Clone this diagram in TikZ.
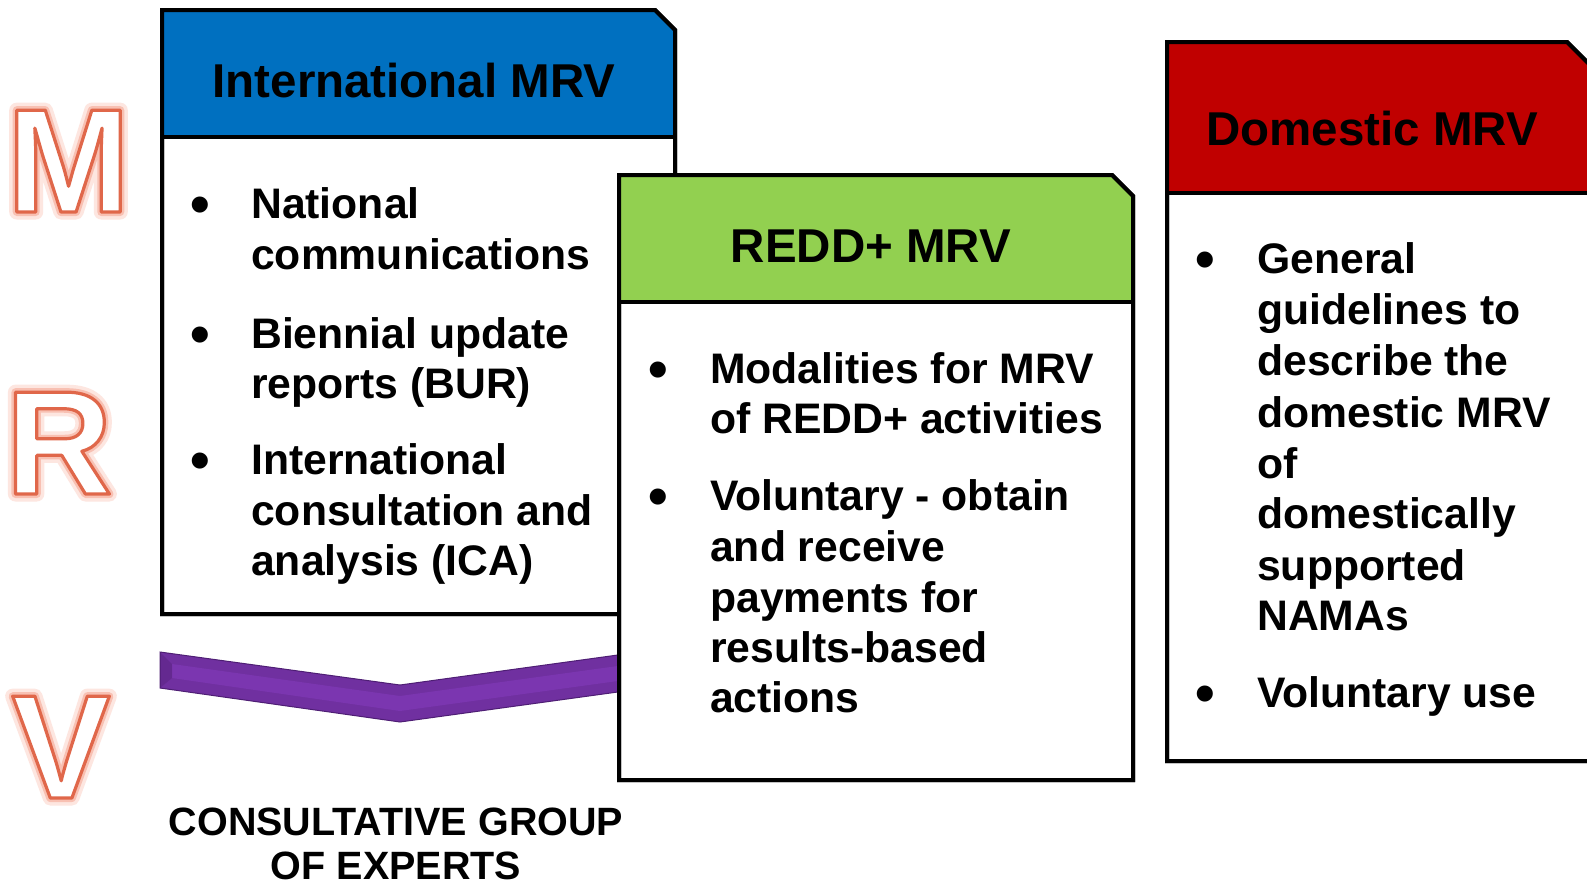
\documentclass[tikz,border=0pt]{standalone}
\usepackage{fontspec}
\setmainfont{Liberation Sans}
\definecolor{intblue}{HTML}{0070C0}
\definecolor{reddgreen}{HTML}{92D050}
\definecolor{domred}{HTML}{C00000}
\definecolor{cgepurple}{HTML}{7030A0}
\definecolor{cgelight}{HTML}{7B36B0}
\definecolor{cgedark}{HTML}{4E1E74}
\definecolor{mrvline}{HTML}{E0674A}
\definecolor{glowA}{HTML}{FDE6E0}
\definecolor{glowB}{HTML}{F8C0B2}
\newcommand{\strokedtext}[2]{\special{pdf:literal direct 1 j #1 w 1 Tr}#2\special{pdf:literal direct 0 Tr}}
\newcommand{\glowletter}[1]{\rlap{\color{glowA}\strokedtext{15}{#1}}\rlap{\color{glowB}\strokedtext{8}{#1}}\rlap{\color{white}#1}{\color{mrvline}\strokedtext{3.2}{#1}}}
\begin{document}
\begin{tikzpicture}[x=1pt,y=-1pt,
  boxline/.style={line width=4pt, line join=miter},
  body/.style={font=\fontsize{42.7}{51}\selectfont\bfseries, anchor=base west, inner sep=0pt},
  bul/.style={font=\fontsize{56}{60}\selectfont\bfseries, anchor=base, inner sep=0pt},
  head/.style={font=\fontsize{47.5}{55}\selectfont\bfseries, anchor=base, inner sep=0pt},
  cge/.style={font=\fontsize{39.5}{45}\selectfont\bfseries, anchor=base, inner sep=0pt},
  mrv/.style={font=\fontsize{148}{150}\selectfont\bfseries, anchor=base, inner sep=0pt}]
\useasboundingbox (0,0) rectangle (1587,889);
\clip (0,0) rectangle (1587,889);
\fill[white] (0,0) rectangle (1587,889);

% International MRV box
\filldraw[fill=white, boxline] (162,10) -- (655,10) -- (675,30) -- (675,614) -- (162,614) -- cycle;
\fill[intblue] (162,10) -- (655,10) -- (675,30) -- (675,137) -- (162,137) -- cycle;
\draw[boxline] (162,10) -- (655,10) -- (675,30) -- (675,614) -- (162,614) -- cycle;
\draw[boxline] (162,137) -- (675,137);
\node[head] (hint) at (414,97) {International MRV};

% purple chevron
\fill[cgepurple, draw=cgedark, line width=1pt] (160,652) -- (400,685) -- (625,654) -- (625,691) -- (400,722) -- (160,688) -- cycle;
\fill[cgelight] (172,664) -- (400,696) -- (625,665) -- (625,680) -- (400,711) -- (172,678) -- cycle;
\fill[cgedark, opacity=0.35] (160,652) -- (172,664) -- (172,678) -- (160,688) -- cycle;

% REDD+ MRV box
\filldraw[fill=white, boxline] (619,175) -- (1112,175) -- (1133,196) -- (1133,780) -- (619,780) -- cycle;
\fill[reddgreen] (619,175) -- (1112,175) -- (1133,196) -- (1133,302) -- (619,302) -- cycle;
\draw[boxline] (619,175) -- (1112,175) -- (1133,196) -- (1133,780) -- (619,780) -- cycle;
\draw[boxline] (619,302) -- (1133,302);
\node[head] (hredd) at (871,262) {REDD+ MRV};

% Domestic MRV box
\filldraw[fill=white, boxline] (1167,42) -- (1567,42) -- (1600,75) -- (1600,761) -- (1167,761) -- cycle;
\fill[domred] (1167,42) -- (1567,42) -- (1600,75) -- (1600,193) -- (1167,193) -- cycle;
\draw[boxline] (1167,42) -- (1567,42) -- (1600,75) -- (1600,761) -- (1167,761) -- cycle;
\draw[boxline] (1167,193) -- (1600,193);
\node[head] (hdom) at (1372,145) {Domestic MRV};

% International items
\node[bul] (ib1) at (200,223) {•};
\node[body] (i1a) at (251,218) {National};
\node[body] (i1b) at (251,269) {communications};
\node[bul] (ib2) at (200,353) {•};
\node[body] (i2a) at (251,348) {Biennial update};
\node[body] (i2b) at (251,398) {reports (BUR)};
\node[bul] (ib3) at (200,479) {•};
\node[body] (i3a) at (251,474) {International};
\node[body] (i3b) at (251,525) {consultation and};
\node[body] (i3c) at (251,575) {analysis (ICA)};

% REDD+ items
\node[bul] (rb1) at (658,388) {•};
\node[body] (r1a) at (710,383) {Modalities for MRV};
\node[body] (r1b) at (710,433) {of REDD+ activities};
\node[bul] (rb2) at (658,515) {•};
\node[body] (r2a) at (710,510) {Voluntary - obtain};
\node[body] (r2b) at (710,561) {and receive};
\node[body] (r2c) at (710,612) {payments for};
\node[body] (r2d) at (710,662) {results-based};
\node[body] (r2e) at (710,712) {actions};

% Domestic items
\node[bul] (db1) at (1205,278) {•};
\node[body] (d1a) at (1257,273) {General};
\node[body] (d1b) at (1257,324) {guidelines to};
\node[body] (d1c) at (1257,375) {describe the};
\node[body] (d1d) at (1257,427) {domestic MRV};
\node[body] (d1e) at (1257,478) {of};
\node[body] (d1f) at (1257,528) {domestically};
\node[body] (d1g) at (1257,580) {supported};
\node[body] (d1h) at (1257,630) {NAMAs};
\node[bul] (db2) at (1205,712) {•};
\node[body] (d2a) at (1257,707) {Voluntary use};

% Consultative group
\node[cge] (cg1) at (396,835) {CONSULTATIVE GROUP};
\node[cge] (cg2) at (396,879) {OF EXPERTS};

% M R V letters
\node[mrv] (lm) at (68.5,212) {\glowletter{M}};
\node[mrv] (lr) at (59,494) {\glowletter{R}};
\node[mrv] (lv) at (61,798) {\glowletter{V}};
\end{tikzpicture}
\end{document}
